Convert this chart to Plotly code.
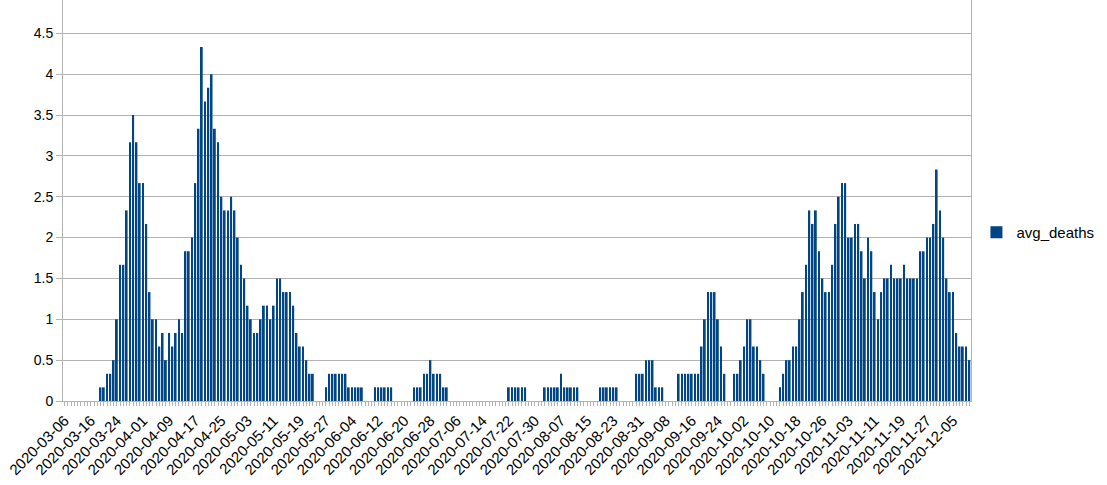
import pandas as pd
import plotly.graph_objects as go

# categories: one date per bar (03-07 and 03-08 are not in the data)
dates = ['2020-03-06'] + [d.strftime('%Y-%m-%d') for d in pd.date_range('2020-03-09', '2020-12-10')]

avg_deaths = [
    0, 0, 0, 0, 0, 0, 0, 0, 0, 0, 0,
    0.167, 0.167, 0.333, 0.333, 0.5, 1, 1.667, 1.667, 2.333, 3.167,
    3.5, 3.167, 2.667, 2.667, 2.167, 1.333, 1, 1, 0.667, 0.833,
    0.5, 0.833, 0.667, 0.833, 1, 0.833, 1.833, 1.833, 2, 2.667,
    3.333, 4.333, 3.667, 3.833, 4, 3.333, 3.167, 2.5, 2.333, 2.333,
    2.5, 2.333, 2, 1.667, 1.5, 1.167, 1, 0.833, 0.833, 1,
    1.167, 1.167, 1, 1.167, 1.5, 1.5, 1.333, 1.333, 1.333, 1.167,
    0.833, 0.667, 0.667, 0.5, 0.333, 0.333,
    0, 0, 0,
    0.167, 0.333, 0.333, 0.333, 0.333, 0.333, 0.333,
    0.167, 0.167, 0.167, 0.167, 0.167,
    0, 0, 0,
    0.167, 0.167, 0.167, 0.167, 0.167, 0.167,
    0, 0, 0, 0, 0, 0,
    0.167, 0.167, 0.167, 0.333, 0.333, 0.5, 0.333, 0.333, 0.333, 0.167, 0.167,
    0, 0, 0, 0, 0, 0, 0, 0, 0, 0, 0, 0, 0, 0, 0, 0, 0, 0,
    0.167, 0.167, 0.167, 0.167, 0.167, 0.167,
    0, 0, 0, 0, 0,
    0.167, 0.167, 0.167, 0.167, 0.167, 0.333, 0.167, 0.167, 0.167, 0.167, 0.167,
    0, 0, 0, 0, 0, 0,
    0.167, 0.167, 0.167, 0.167, 0.167, 0.167,
    0, 0, 0, 0, 0,
    0.333, 0.333, 0.333, 0.5, 0.5, 0.5, 0.167, 0.167, 0.167,
    0, 0, 0, 0,
    0.333, 0.333, 0.333, 0.333, 0.333, 0.333, 0.333,
    0.667, 1, 1.333, 1.333, 1.333, 1, 0.667, 0.333,
    0, 0,
    0.333, 0.333, 0.5, 0.667, 1, 1, 0.667, 0.667, 0.5, 0.333,
    0, 0, 0, 0,
    0.167, 0.333, 0.5, 0.5, 0.667, 0.667, 1, 1.333, 1.667, 2.333,
    2.167, 2.333, 1.833, 1.5, 1.333, 1.333, 1.667, 2.167, 2.5, 2.667,
    2.667, 2, 2, 2.167, 2.167, 1.833, 1.5, 2, 1.833, 1.333, 1,
    1.333, 1.5, 1.5, 1.667, 1.5, 1.5, 1.5, 1.667, 1.5, 1.5,
    1.5, 1.5, 1.833, 1.833, 2, 2, 2.167, 2.833, 2.333, 2,
    1.5, 1.333, 1.333, 0.833, 0.667, 0.667, 0.667, 0.5,
]

tick_labels = [d if i % 8 == 0 else '' for i, d in enumerate(dates)]

fig = go.Figure()
fig.add_trace(go.Bar(
    x=dates, y=avg_deaths, name='avg_deaths',
    marker=dict(color='#004586', line=dict(width=0)),
    showlegend=True,
))

fig.update_layout(
    width=1107, height=485,
    margin=dict(l=63, r=136, t=0, b=84),
    plot_bgcolor='#FFFFFF', paper_bgcolor='#FFFFFF',
    font=dict(family='Liberation Sans', size=14, color='#000000'),
    bargap=0.45,
    legend=dict(x=1.006, y=0.42, xanchor='left', yanchor='middle',
                font=dict(size=15), itemwidth=30, bgcolor='rgba(0,0,0,0)'),
)
fig.update_xaxes(
    type='category', tickmode='array', tickvals=dates, ticktext=tick_labels,
    tickangle=-45, ticks='outside', ticklen=4, tickcolor='#b3b3b3',
    tickfont=dict(size=15),
    showline=True, linecolor='#b3b3b3', showgrid=False,
)
fig.update_yaxes(
    range=[0, 4.908], dtick=0.5, tick0=0,
    showgrid=True, gridcolor='#b3b3b3', gridwidth=1,
    showline=True, linecolor='#b3b3b3', mirror=True,
    ticks='outside', ticklen=6, tickcolor='#b3b3b3',
    zeroline=False,
)

# page body has an 8px default margin; drop it so the chart sits at 0,0
fig.write_html("out.html", config={'displayModeBar': False},
               post_script="document.body.style.margin='0';")
